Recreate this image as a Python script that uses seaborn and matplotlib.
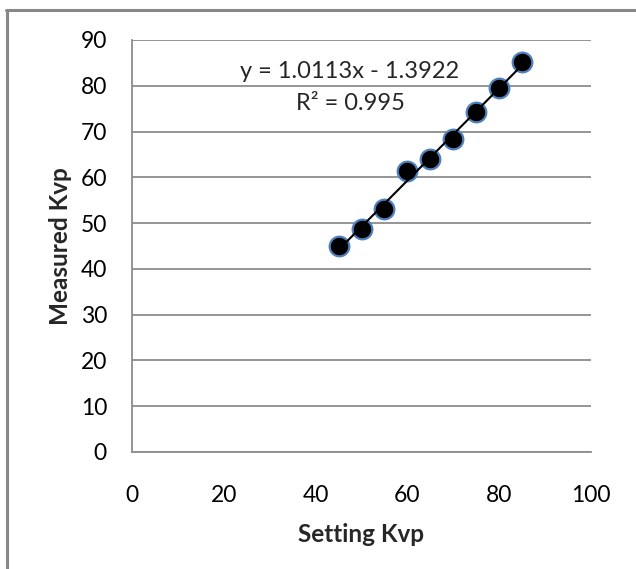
import matplotlib
matplotlib.use("Agg")
import matplotlib.pyplot as plt
import seaborn as sns
import pandas as pd
from matplotlib.lines import Line2D

setting_kvp = [45, 50, 55, 60, 65, 70, 75, 80, 85]
measured_kvp = [44.9, 48.7, 53.0, 61.3, 64.0, 68.4, 74.2, 79.5, 85.1]
x_ticks = [0, 20, 40, 60, 80, 100]
y_ticks = [0, 10, 20, 30, 40, 50, 60, 70, 80, 90]
equation_text = "y = 1.0113x - 1.3922"
r2_text = "R² = 0.995"
x_label = "Setting Kvp"
y_label = "Measured Kvp"

sns.set_style("white")
plt.rcParams['font.family'] = ['Lato', 'DejaVu Sans']

df = pd.DataFrame({"x": setting_kvp, "y": measured_kvp})

fig = plt.figure(figsize=(6.36, 5.69), dpi=100)
ax = fig.add_axes([132/636, 1-452/569, (591-132)/636, (452-40)/569])

sns.regplot(data=df, x="x", y="y", ax=ax, ci=None,
            scatter_kws=dict(s=200, color="black", edgecolor="#4f81bd", linewidths=1.6,
                             alpha=1, zorder=3),
            line_kws=dict(color="black", lw=1.5, zorder=4))

ax.set_xlim(0, 100)
ax.set_ylim(0, 90)
ax.set_xticks(x_ticks)
ax.set_yticks(y_ticks)
ax.set_xticklabels([str(v) for v in x_ticks])
ax.set_yticklabels([str(v) for v in y_ticks])
ax.tick_params(axis="both", length=0, labelsize=16.5, colors="black")
ax.tick_params(axis="y", pad=18)
ax.tick_params(axis="x", pad=24)

ax.yaxis.grid(True, color="#8c8c8c", lw=1.3)
ax.xaxis.grid(False)
ax.set_axisbelow(True)
for s in ["top", "right"]:
    ax.spines[s].set_visible(False)
for s in ["left", "bottom"]:
    ax.spines[s].set_color("#8c8c8c")
    ax.spines[s].set_linewidth(1.3)

ax.set_xlabel(x_label, fontsize=17.5, fontweight="bold", labelpad=12)
ax.set_ylabel(y_label, fontsize=17.5, fontweight="bold", labelpad=6)

ax.text(47.5, 83.2, equation_text, ha="center", va="center", fontsize=17)
ax.text(47.5, 76.2, r2_text, ha="center", va="center", fontsize=17)

# outer chart border
fig.add_artist(Line2D([7/636, 7/636], [0, 1-10/569], transform=fig.transFigure, color="#888888", lw=2.2))
fig.add_artist(Line2D([6/636, 1], [1-10/569, 1-10/569], transform=fig.transFigure, color="#888888", lw=2.2))

fig.savefig("out.png", dpi=100)
